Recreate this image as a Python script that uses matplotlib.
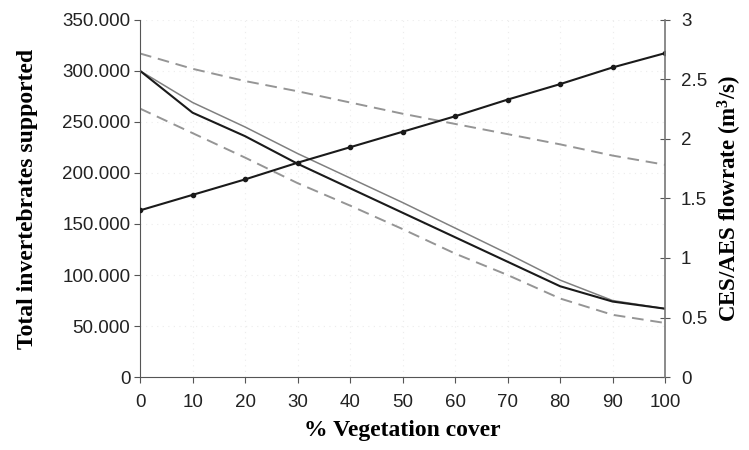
import matplotlib
matplotlib.use('Agg')
import matplotlib.pyplot as plt
from matplotlib.ticker import FuncFormatter

# % vegetation cover
cover = [0, 10, 20, 30, 40, 50, 60, 70, 80, 90, 100]

# total invertebrates supported (left axis)
inv_main = [300000, 259000, 236000, 209000, 185000, 161000, 137000, 113000, 89000, 74000, 67000]
inv_alt = [300000, 269000, 245000, 219000, 195000, 171000, 146000, 121000, 95000, 75000, 67000]
inv_upper = [317000, 302000, 290000, 280000, 269000, 258000, 248000, 238000, 228000, 217000, 208000]
inv_lower = [263000, 239000, 215000, 190000, 168000, 145000, 121000, 100000, 77000, 61000, 53000]

# CES/AES flowrate (right axis)
flowrate = [1.40, 1.53, 1.66, 1.80, 1.93, 2.06, 2.19, 2.33, 2.46, 2.60, 2.72]

plt.rcParams['font.family'] = ['Liberation Sans', 'DejaVu Sans']
plt.rcParams['mathtext.fontset'] = 'custom'
plt.rcParams['mathtext.rm'] = 'Liberation Serif:bold'
plt.rcParams['mathtext.it'] = 'Liberation Serif:bold'
plt.rcParams['mathtext.bf'] = 'Liberation Serif:bold'

label_font = 'Liberation Serif'

fig = plt.figure(figsize=(7.49, 4.5), dpi=100)
ax = fig.add_axes([0.187, 0.162, 0.701, 0.794])
ax2 = ax.twinx()

# grille pointillée très claire
for v in range(50000, 350001, 50000):
    ax.axhline(v, color='#ececec', lw=0.8, ls=(0, (1, 4)), zorder=0)
for v in range(10, 100, 10):
    ax.axvline(v, color='#ececec', lw=0.8, ls=(0, (1, 4)), zorder=0)

ax.plot(cover, inv_upper, color='#959595', lw=1.4, ls=(0, (6, 3.5)))
ax.plot(cover, inv_lower, color='#959595', lw=1.4, ls=(0, (6, 3.5)))
ax.plot(cover, inv_alt, color='#808080', lw=1.1)
ax.plot(cover, inv_main, color='#1a1a1a', lw=1.5)

ax2.plot(cover, flowrate, color='#1a1a1a', lw=1.5, marker='o', ms=3)

ax.set_xlim(0, 100)
ax.set_ylim(0, 350000)
ax2.set_ylim(0, 3)
ax.set_xticks(cover)
ax.set_yticks(range(0, 350001, 50000))
ax2.set_yticks([0, 0.5, 1, 1.5, 2, 2.5, 3])

ax.yaxis.set_major_formatter(FuncFormatter(lambda v, p: '0' if v == 0 else f'{int(v):,}'.replace(',', '.')))
ax2.yaxis.set_major_formatter(FuncFormatter(lambda v, p: f'{v:g}'))

for a in (ax, ax2):
    a.spines['top'].set_visible(False)

ax.spines['left'].set_color('#555555')
ax.spines['bottom'].set_color('#555555')
ax.spines['right'].set_visible(False)
ax2.spines['left'].set_visible(False)
ax2.spines['bottom'].set_visible(False)
ax2.spines['right'].set_color('#777777')
ax2.spines['right'].set_linewidth(1.2)

ax.tick_params(axis='both', direction='out', length=4, color='#555555',
               labelsize=13.5, labelcolor='#222222')
ax.tick_params(axis='x', pad=8)
ax.tick_params(axis='y', pad=3)
ax2.tick_params(axis='y', direction='inout', length=7, color='#555555', pad=8,
                labelsize=13.5, labelcolor='#222222')

ax.set_xlabel('% Vegetation cover', fontfamily=label_font, fontweight='bold', fontsize=17, labelpad=7)
ax.set_ylabel('Total invertebrates supported', fontfamily=label_font, fontweight='bold', fontsize=17, labelpad=17)
ax2.set_ylabel('CES/AES flowrate (m$^3$/s)', fontfamily=label_font, fontweight='bold', fontsize=16.5, labelpad=6)

fig.savefig('out.png', dpi=100)
